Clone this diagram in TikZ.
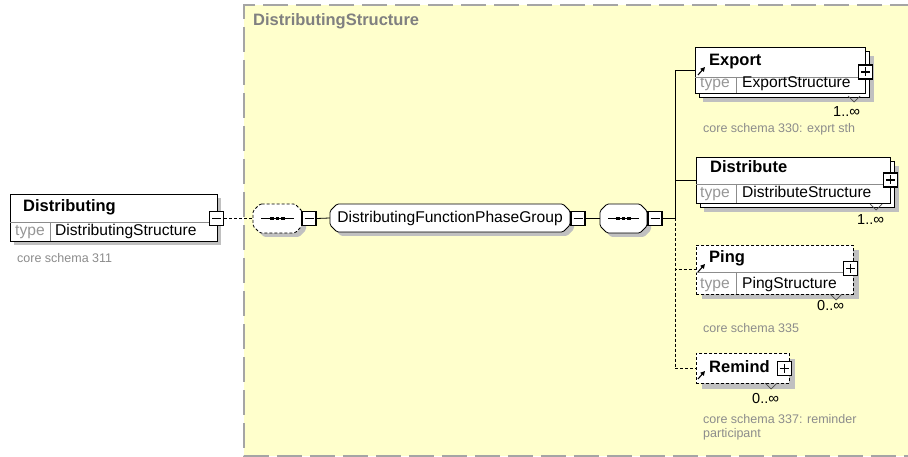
\documentclass[tikz,border=0pt]{standalone}
\usepackage{fontspec}
\setmainfont{Liberation Sans}
\usetikzlibrary{arrows.meta}
\definecolor{bgyellow}{RGB}{255,255,204}
\definecolor{framegray}{RGB}{165,165,165}
\definecolor{titlegray}{RGB}{128,128,128}
\definecolor{shadowgray}{RGB}{192,192,192}
\definecolor{typegray}{RGB}{150,150,150}
\definecolor{notegray}{RGB}{140,140,140}
\definecolor{linegray}{RGB}{140,140,140}

% #1 draw style, #2 x1, #3 y1, #4 x2, #5 y2
\newcommand\chamfshape[5]{%
  \fill[shadowgray, shift={(4,4)}, rounded corners=1.5pt]
    (#2+7,#3) -- (#4-7,#3) -- (#4,#3+7) -- (#4,#5-7) -- (#4-7,#5) -- (#2+7,#5) -- (#2,#5-7) -- (#2,#3+7) -- cycle;
  \draw[#1, rounded corners=1.5pt]
    (#2+7,#3) -- (#4-7,#3) -- (#4,#3+7) -- (#4,#5-7) -- (#4-7,#5) -- (#2+7,#5) -- (#2,#5-7) -- (#2,#3+7) -- cycle;
}

\begin{document}
\begin{tikzpicture}[x=1pt,y=-1pt,
  elembox/.style={draw=black, fill=white, line width=0.8pt, inner sep=0, anchor=north west},
  optbox/.style={dash pattern=on 3pt off 2pt},
  optline/.style={dash pattern=on 3pt off 2pt, line width=0.8pt},
  conn/.style={line width=0.8pt},
  anchorbox/.style={draw=none, inner sep=0},
  divider/.style={draw=linegray, line width=0.7pt},
  pmbox/.style={draw=black, fill=white, line width=1.6pt, minimum size=14pt, inner sep=0},
  minusbox/.style={pmbox, path picture={\draw[line width=1.2pt] ([xshift=2.5pt]path picture bounding box.west) -- ([xshift=-2.5pt]path picture bounding box.east);}},
  plusbox/.style={pmbox, path picture={\draw[line width=1.2pt] ([xshift=2.5pt]path picture bounding box.west) -- ([xshift=-2.5pt]path picture bounding box.east) ([yshift=-2.5pt]path picture bounding box.north) -- ([yshift=2.5pt]path picture bounding box.south);}},
  ttl/.style={font=\fontsize{16.5}{18}\selectfont\bfseries, inner sep=0, anchor=base west},
  txt/.style={font=\fontsize{15.6}{18}\selectfont, inner sep=0, anchor=base west},
  typ/.style={txt, text=typegray},
  note/.style={font=\fontsize{12.5}{14}\selectfont, text=notegray, inner sep=0, anchor=base west},
  mult/.style={font=\fontsize{14.5}{16}\selectfont, inner sep=0, anchor=base west},
  refarrow/.style={-{Triangle[length=4.5pt,width=4.5pt]}, line width=1.1pt},
  notch/.style={draw=black!70, line width=0.7pt},
  shade/.style={fill=shadowgray}
]
\useasboundingbox (0,0) rectangle (908,457);
\fill[white] (0,0) rectangle (908,457);
\begin{scope}
\clip (0,0) rectangle (908,457);
\fill[bgyellow] (244,5) rectangle (915,456);
\draw[framegray, line width=1.3pt, dash pattern=on 25pt off 8pt] (915,5) -- (244,5) -- (244,456) -- (915,456);
\end{scope}
\node[font=\fontsize{16.5}{18}\selectfont\bfseries, text=titlegray, inner sep=0, anchor=base west] (ctitle) at (253,26) {DistributingStructure};

% ---------- Distributing element ----------
\fill[shade] (14,198) rectangle (221,245);
\node[elembox, minimum width=207, minimum height=47] (dist) at (10,194) {};
\draw[divider] (10,222) -- (217,222);
\draw[divider] (50,222) -- (50,241);
\node[ttl] (distT) at (23,212) {Distributing};
\node[typ] (distTy) at (15,236) {type};
\node[txt] (distS) at (55,236) {DistributingStructure};
\node[note] (distN) at (17,262) {core schema 311};
\node[minusbox] (dminus) at (216.5,218.5) {};

% ---------- first sequence (optional) ----------
\chamfshape{fill=white, line width=0.8pt, optbox}{253}{204}{302}{233}
\node[anchorbox, minimum width=49, minimum height=29] (seqA) at (277.5,218.5) {};
\draw[line width=1pt] (261,218.5) -- (294,218.5);
\foreach \xx in {272,277.5,283} \fill (\xx-1.8,216.7) rectangle (\xx+1.8,220.3);
\node[minusbox] (aminus) at (309,218.5) {};

% ---------- group reference ----------
\chamfshape{fill=white, line width=0.8pt}{330}{204}{570}{232}
\node[anchorbox, minimum width=240, minimum height=28, font=\fontsize{15.6}{18}\selectfont] (group) at (450,218) {DistributingFunctionPhaseGroup};
\node[minusbox] (gminus) at (578,218.5) {};

% ---------- second sequence ----------
\chamfshape{fill=white, line width=0.8pt}{600}{204}{647}{233}
\node[anchorbox, minimum width=47, minimum height=29] (seqB) at (623.5,218.5) {};
\draw[line width=1pt] (608,218.5) -- (639,218.5);
\foreach \xx in {618,623.5,629} \fill (\xx-1.8,216.7) rectangle (\xx+1.8,220.3);
\node[minusbox] (bminus) at (655,218.5) {};

\coordinate (j) at (675,218.5);

% ---------- Export ----------
\fill[shade] (703,56) rectangle (874,102);
\node[elembox, minimum width=170, minimum height=46] (exportB) at (699,51) {};
\node[elembox, minimum width=170, minimum height=46] (export) at (695,47) {};
\draw[divider] (695,77) -- (865,77);
\draw[divider] (736,77) -- (736,93);
\node[ttl] (exportT) at (709,66) {Export};
\node[typ] (exportTy) at (700,88) {type};
\node[txt] (exportS) at (742,88) {ExportStructure};
\node[plusbox] (exportP) at (865.5,72) {};
\draw[notch] (848,96) -- (854,102) -- (860,96);
\node[mult] (exportM) at (833,117) {1..{\fontsize{15}{15}\selectfont ∞}};
\node[note] (exportN) at (703,133) {core schema 330: exprt sth};

% ---------- Distribute ----------
\fill[shade] (704,166) rectangle (899,212);
\node[elembox, minimum width=194, minimum height=46] (distrB) at (700,161) {};
\node[elembox, minimum width=194, minimum height=46] (distr) at (696,157) {};
\draw[divider] (696,184) -- (890,184);
\draw[divider] (736,184) -- (736,203);
\node[ttl] (distrT) at (710,173) {Distribute};
\node[typ] (distrTy) at (700,198) {type};
\node[txt] (distrS) at (742,198) {DistributeStructure};
\node[plusbox] (distrP) at (890.5,180) {};
\draw[notch] (870,204) -- (876,210) -- (882,204);
\node[mult] (distrM) at (857,225) {1..{\fontsize{15}{15}\selectfont ∞}};

% ---------- Ping ----------
\fill[shade] (702,250) rectangle (859,299);
\node[elembox, optbox, minimum width=157, minimum height=49] (ping) at (696,245) {};
\draw[divider] (696,272) -- (853,272);
\draw[divider] (736,272) -- (736,294);
\node[ttl] (pingT) at (709,263) {Ping};
\node[typ] (pingTy) at (700,288) {type};
\node[txt] (pingS) at (742,288) {PingStructure};
\node[plusbox] (pingP) at (850.5,268.5) {};
\draw[notch] (830,294) -- (836,300) -- (842,294);
\node[mult] (pingM) at (817,310) {0..{\fontsize{15}{15}\selectfont ∞}};
\node[note] (pingN) at (703,332) {core schema 335};

% ---------- Remind ----------
\fill[shade] (702,359) rectangle (795,389);
\node[elembox, optbox, minimum width=93, minimum height=30] (remind) at (696,353) {};
\node[ttl] (remindT) at (709,372) {Remind};
\node[plusbox] (remindP) at (784.5,368.5) {};
\draw[notch] (765,383) -- (771,389) -- (777,383);
\node[mult] (remindM) at (752,403) {0..{\fontsize{15}{15}\selectfont ∞}};
\node[note] (remindN1) at (703,423) {core schema 337: reminder};
\node[note] (remindN2) at (703,437) {participant};

% ---------- connectors ----------
\draw[optline] (dminus.east) -- (seqA.west);
\draw[conn] (aminus.east) -- (group.west);
\draw[conn] (gminus.east) -- (seqB.west);
\draw[conn] (bminus.east) -- (j);
\draw[conn] (j) |- (export.west);
\draw[conn] (j) |- (distr.west);
\draw[optline] (j) |- (ping.west);
\draw[optline] (j) |- (remind.west);

% reference markers
\draw[refarrow] (698,75) -- (705,67);
\draw[refarrow] (698,272) -- (705,264);
\draw[refarrow] (698,379) -- (705,371);
\end{tikzpicture}
\end{document}
